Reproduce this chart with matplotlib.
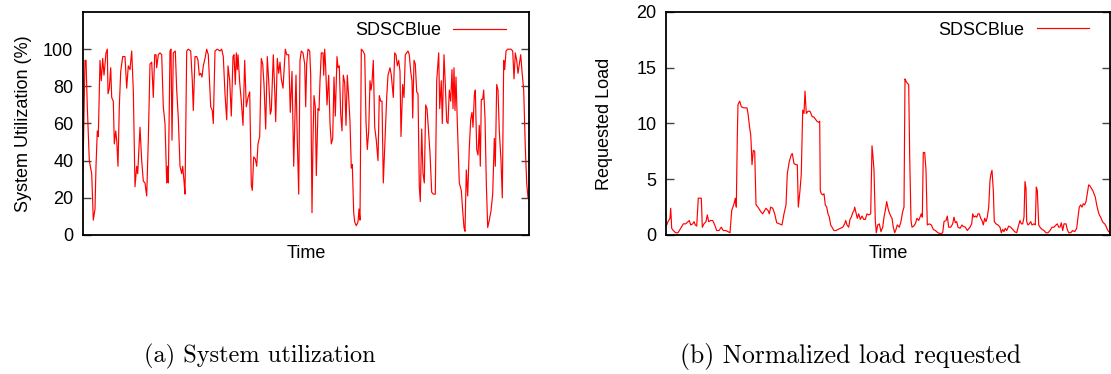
import matplotlib
matplotlib.use("Agg")
import matplotlib.pyplot as plt

# ---------------- data ----------------
util_time = [
    0, 2, 3, 4.3, 6.3, 8.7, 10.3, 12, 13, 14.3,
    15.3, 17, 18.3, 19.7, 21, 23, 24.3, 25, 26.3, 27.7,
    28.7, 30.3, 31.3, 32.7, 33.7, 35, 36.3, 37.7, 39.7, 42,
    43.7, 45.3, 47, 48.7, 50.3, 52, 53.7, 54.7, 57, 58.7,
    60.3, 62, 63.7, 65.3, 67, 68.7, 70.3, 71.7, 73, 73.7,
    75.3, 77, 78.7, 80.3, 82, 83.7, 84.7, 85.3, 87, 88,
    89, 90.3, 92.3, 93.7, 95.3, 97, 98.7, 99.7, 101, 102,
    103.7, 105.3, 107.7, 109.3, 110.3, 112, 113.7, 115, 116.3, 117.7,
    119, 120.3, 122, 123.7, 125.3, 127.7, 129.3, 130.3, 132, 134.3,
    137, 138.7, 140.3, 142, 143.7, 145, 146.7, 148.3, 150, 151,
    152.3, 153.3, 154.3, 155, 156.7, 158.3, 160, 161.7, 163.3, 165,
    166.7, 168.3, 169.3, 170.7, 172.3, 173.7, 175, 176.7, 178.3, 179.7,
    181, 182.7, 184.3, 185.7, 187.3, 188.3, 190.3, 191.7, 192.7, 194.3,
    195.7, 197, 198.3, 200, 201.7, 202.3, 203.7, 205.7, 207.3, 209,
    210.7, 211.7, 213, 214.3, 215.7, 217, 218.3, 220, 221.7, 222.7,
    223.7, 225, 226.7, 227.7, 229, 230, 231, 232.3, 233.3, 235,
    236, 237, 238.3, 240, 240.7, 241.7, 242.7, 244, 245.7, 247,
    248.3, 249.7, 251, 252.3, 254, 255, 256.3, 257.7, 259, 260.3,
    261.7, 263, 264.3, 265.7, 267, 268.3, 269.3, 270.7, 271.7, 273.3,
    275, 276, 277, 278.3, 280, 281.7, 283, 284.3, 285.7, 287,
    288, 289, 290.3, 291.7, 293.3, 295, 296.3, 297.7, 299, 300.3,
    302, 303.7, 305, 307, 308.3, 310.3, 311.7, 313, 314.3, 315.7,
    317, 318, 319.7, 321, 322.3, 323.7, 325, 326.3, 327.7, 329,
    329.7, 331, 332.3, 333.7, 335, 336.3, 337.3, 338.7, 340, 341.3,
    342.7, 344, 345.3, 347, 348.7, 350.3, 352.3, 353.7, 355.7, 356.7,
    358.3, 359.3, 361, 362.3, 363.7, 365, 366.3, 367.7, 369, 370,
    371, 372, 373, 374.3, 376.3, 378.3, 379.7, 381, 382, 383.3,
    384.7, 386.3, 387.7, 389, 390, 391.3, 392.3, 393.7, 395, 396.3,
    397.3, 398.3, 399.7, 400.7, 402, 403.3, 404.7, 406.3, 408, 409.7,
    411.3, 412.3, 413.7, 415, 416.3, 418, 419.3, 420.7, 421.7, 423,
    424.7, 426.3, 428, 429.7, 431, 432.3, 433.7, 435, 436.3, 437.7,
    439, 440.7, 442.3, 443.7, 445,
]
util_value = [
    35, 94, 94, 69, 40, 33, 8, 14, 37, 56,
    53, 94, 83, 95, 86, 98, 100, 76, 79, 90,
    74, 72, 49, 56, 51, 37, 69, 88, 96, 96,
    79, 91, 89, 99, 78, 26, 37, 33, 58, 40,
    29, 28, 21, 51, 92, 93, 74, 97, 97, 90,
    97, 98, 97, 69, 60, 28, 37, 28, 99, 100,
    51, 98, 99, 78, 63, 37, 33, 37, 29, 22,
    99, 100, 99, 83, 67, 96, 96, 94, 86, 87,
    85, 91, 95, 100, 97, 69, 67, 60, 99, 100,
    99, 100, 96, 76, 62, 91, 83, 64, 96, 97,
    81, 98, 89, 97, 82, 72, 59, 94, 69, 74,
    77, 27, 24, 42, 41, 37, 49, 53, 95, 92,
    81, 57, 96, 83, 65, 67, 97, 78, 61, 95,
    87, 93, 84, 79, 94, 100, 97, 97, 66, 88,
    37, 58, 86, 51, 22, 94, 99, 98, 92, 69,
    92, 100, 99, 86, 12, 51, 75, 69, 32, 68,
    67, 83, 98, 98, 86, 100, 90, 70, 86, 60,
    49, 52, 85, 64, 96, 90, 91, 65, 56, 86,
    82, 59, 86, 74, 61, 36, 38, 12, 7, 5,
    7, 14, 8, 100, 99, 97, 61, 46, 56, 83,
    78, 82, 94, 58, 51, 40, 75, 72, 72, 28,
    51, 74, 86, 90, 86, 74, 98, 97, 91, 94,
    88, 53, 81, 74, 97, 98, 99, 97, 88, 83,
    63, 94, 92, 77, 76, 26, 18, 57, 33, 28,
    70, 68, 58, 44, 23, 22, 22, 83, 98, 68,
    83, 60, 97, 81, 61, 60, 78, 72, 89, 68,
    90, 67, 85, 61, 28, 24, 13, 4, 2, 35,
    21, 47, 62, 66, 58, 75, 78, 46, 43, 59,
    37, 73, 73, 78, 63, 28, 4, 8, 13, 22,
    52, 37, 81, 78, 56, 40, 20, 94, 89, 99,
    100, 100, 100, 99, 84, 98, 94, 87, 92, 97,
    88, 78, 47, 28, 20,
]

load_time = [
    0, 0.7, 2, 4, 4.7, 5.7, 7.3, 9.7, 12, 14.7,
    17.3, 19.7, 22, 23.3, 24.7, 26.7, 28, 29.3, 30.7, 32.3,
    34, 35.3, 36.3, 38, 40, 41.3, 42.7, 44.7, 46.7, 48.7,
    50.7, 53, 55.3, 57.3, 59.7, 62, 64, 65.7, 68, 69.3,
    70.3, 71.3, 72, 73.7, 75.3, 78, 79.7, 81, 82, 83.7,
    84.7, 85.3, 86, 87.3, 88.7, 90, 92, 94.7, 96.7, 98.7,
    100, 102, 103.3, 104.7, 106.7, 108.7, 110.7, 113.3, 116, 118,
    120, 121.3, 123.3, 125.3, 126.3, 128, 130, 131.3, 132.3, 134,
    135.3, 136.7, 138, 139, 140.3, 142, 144, 146.3, 147.7, 149.3,
    151, 152.7, 153.7, 154.3, 155.3, 156.7, 158, 159.3, 160.7, 162,
    163.3, 164.7, 166, 168, 170, 172, 174.3, 176.7, 178.7, 179.7,
    181, 182.7, 184, 185.3, 186.7, 188, 188.7, 190, 191.3, 192.7,
    194.3, 196, 197.7, 199.3, 201, 202.7, 204.7, 206, 207, 208,
    209.3, 210.3, 211.7, 213.3, 215, 216.7, 218, 219.3, 220.7, 222,
    223.3, 224.7, 226, 227.3, 228.7, 230, 231.3, 233.3, 234.7, 236.7,
    238, 239, 240, 241.3, 242.7, 243.7, 245, 246, 247.7, 249.3,
    251, 252.7, 254, 255.3, 256.3, 257.3, 258.7, 260, 261.3, 263.3,
    265.3, 267.3, 269.3, 272, 274.7, 276.7, 278, 280, 281.3, 282.7,
    284.7, 286.7, 288, 289.3, 290.7, 292, 294, 296, 296.7, 299.3,
    301.3, 304, 305.7, 306.7, 308, 309.3, 310.7, 312, 313.3, 314.7,
    316, 317.3, 318.7, 320, 321.3, 322.7, 324, 325, 326, 327.3,
    328.3, 330, 332, 334, 335.3, 336.7, 338, 339.3, 340.7, 342.7,
    344.7, 346.7, 348.7, 350.7, 352.7, 354, 355.3, 356.7, 358, 359,
    360, 360.7, 362, 363.3, 364.7, 366, 368, 369.3, 370.3, 371.3,
    372.7, 374, 376, 378, 380, 382, 384, 386, 388, 390,
    391.3, 392.7, 394, 395.3, 396.7, 398, 400, 401.3, 402.7, 404.7,
    406.7, 408.7, 410.7, 412, 413.3, 414.7, 416, 417.3, 418.7, 420,
    421.3, 422.7, 424, 425.3, 426.7, 428, 429.3, 430.7, 432, 433.3,
    434.7, 436, 437.3, 438.7, 440, 441.3, 442.7, 444,
]
load_value = [
    0.8, 0.9, 1.2, 1.5, 2.4, 0.6, 0.4, 0.2, 0.2, 0.6,
    1.0, 1.0, 1.2, 1.3, 0.9, 1.0, 1.2, 0.9, 0.8, 3.3,
    3.3, 3.3, 0.7, 1.0, 1.2, 1.8, 1.2, 1.3, 1.3, 0.9,
    0.4, 0.4, 0.7, 0.4, 0.4, 0.3, 0.2, 2.2, 2.8, 3.3,
    2.5, 8.8, 11.7, 12.0, 11.5, 11.4, 11.4, 11.4, 10.9, 9.6,
    9.0, 7.9, 6.3, 7.6, 7.5, 2.7, 2.5, 2.1, 1.9, 2.2,
    2.4, 2.2, 1.9, 2.5, 2.4, 1.9, 1.1, 1.0, 0.9, 1.9,
    2.7, 5.5, 6.6, 7.2, 7.3, 6.4, 6.3, 6.3, 2.5, 4.0,
    5.5, 11.2, 10.9, 12.9, 10.9, 11.1, 11.1, 10.6, 10.6, 10.4,
    10.2, 10.1, 10.2, 4.0, 3.7, 3.6, 3.7, 2.7, 2.5, 1.9,
    1.6, 0.9, 0.7, 0.4, 0.4, 0.5, 0.6, 0.7, 1.0, 1.3,
    0.9, 0.7, 1.4, 1.6, 2.0, 2.2, 2.5, 2.0, 1.5, 1.9,
    1.4, 1.7, 1.4, 1.4, 1.9, 1.8, 1.9, 8.0, 7.0, 5.8,
    1.3, 0.2, 0.9, 1.0, 0.3, 0.7, 1.6, 2.2, 3.0, 2.4,
    2.0, 1.7, 1.5, 0.7, 0.2, 0.5, 0.9, 0.7, 1.1, 2.1,
    2.5, 14.0, 13.8, 13.6, 13.5, 7.0, 1.3, 0.7, 0.8, 1.0,
    1.5, 1.3, 1.6, 1.9, 1.6, 7.4, 7.4, 5.8, 0.9, 1.0,
    0.9, 0.5, 0.4, 0.2, 0.1, 0.2, 1.2, 1.3, 1.7, 0.7,
    0.7, 1.0, 1.6, 1.1, 1.2, 0.7, 0.6, 0.9, 0.8, 0.7,
    0.4, 0.7, 1.0, 1.9, 1.6, 1.7, 1.6, 1.9, 1.9, 1.5,
    1.3, 0.9, 1.5, 1.2, 1.6, 2.5, 4.9, 5.5, 5.8, 4.0,
    1.2, 1.0, 0.9, 0.7, 0.2, 0.5, 0.3, 0.6, 0.4, 0.8,
    0.7, 0.5, 0.3, 0.2, 0.9, 1.3, 1.0, 1.0, 1.6, 4.8,
    4.2, 1.2, 0.9, 1.0, 1.2, 0.9, 1.0, 0.9, 4.3, 4.0,
    0.9, 0.7, 0.5, 0.4, 0.2, 0.2, 0.4, 0.7, 0.7, 0.9,
    1.0, 0.7, 0.7, 1.1, 0.4, 1.0, 1.0, 0.5, 0.2, 0.2,
    0.4, 0.3, 0.6, 1.6, 2.5, 2.7, 2.5, 2.8, 2.7, 3.0,
    3.7, 4.5, 4.4, 4.2, 4.0, 3.7, 3.4, 2.7, 2.2, 1.8,
    1.6, 1.3, 1.1, 1.0, 0.8, 0.5, 0.3, 0.2,
]

util_ticks = [0, 20, 40, 60, 80, 100]
load_ticks = [0, 5, 10, 15, 20]
series_name = "SDSCBlue"
captions = ["(a) System utilization", "(b) Normalized load requested"]
ylabels = ["System Utilization (%)", "Requested Load"]
xlabel = "Time"

# ---------------- figure ----------------
plt.rcParams['font.family'] = ['Liberation Sans', 'DejaVu Sans']
plt.rcParams['font.size'] = 13

W, H = 1111, 374
fig = plt.figure(figsize=(W / 100, H / 100), dpi=100)

ax1 = fig.add_axes([83 / W, 1 - 235 / H, 446 / W, 223 / H])
ax2 = fig.add_axes([666 / W, 1 - 235 / H, 444 / W, 223 / H])

panels = [
    (ax1, util_time, util_value, (0, 120), util_ticks, (0, 446), (0.948, 0.915), 8),
    (ax2, load_time, load_value, (0, 20), load_ticks, (0, 444), (0.953, 0.919), 17),
]
for i, (ax, t, v, ylim, yt, xlim, leg_pos, lpad) in enumerate(panels):
    ax.plot(t, v, color='#ff0000', lw=0.85, label=series_name)
    ax.set_xlim(*xlim)
    ax.set_ylim(*ylim)
    ax.set_yticks(yt)
    ax.set_xticks([])
    ax.tick_params(axis='y', direction='in', length=6, width=1.0,
                   color='#444444', right=True, labelsize=13, pad=7)
    for s in ax.spines.values():
        s.set_linewidth(1.3)
        s.set_color('black')
    ax.set_xlabel(xlabel, fontsize=13, labelpad=7)
    ax.set_ylabel(ylabels[i], fontsize=13, labelpad=lpad)
    ax.legend(loc='center right', bbox_to_anchor=leg_pos, frameon=False,
              markerfirst=False, handlelength=2.9, handletextpad=0.7,
              borderpad=0, borderaxespad=0, fontsize=13)

fig.text(260 / W, 1 - 356 / H, captions[0], family='cmr10', fontsize=17.5,
         ha='center', va='center')
fig.text(850 / W, 1 - 356 / H, captions[1], family='cmr10', fontsize=18.5,
         ha='center', va='center')

fig.savefig("out.png", dpi=100)
